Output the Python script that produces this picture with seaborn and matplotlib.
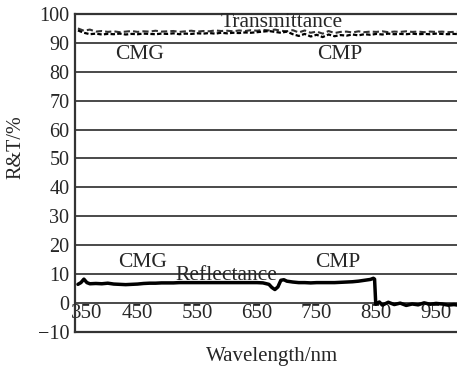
import pandas as pd
import matplotlib
matplotlib.use("Agg")
import matplotlib.pyplot as plt
import matplotlib.transforms as mtransforms
import seaborn as sns

# ---------- data ----------
trans_wl = list(range(350, 1000, 10))
trans_cmg = [95.0, 94.2, 94.6, 93.9, 94.1, 93.8, 94.0, 93.7, 93.9, 94.1,
             93.8, 94.0, 93.9, 94.2, 93.9, 94.0, 94.1, 93.8, 94.0, 94.2,
             93.9, 94.1, 94.0, 94.3, 94.1, 94.2, 94.0, 94.3, 94.1, 94.4,
             94.2, 94.5, 94.3, 94.6, 94.2, 94.0, 94.4, 93.6, 94.3, 93.5,
             93.9, 93.2, 94.1, 93.4, 93.8, 93.9, 93.6, 94.0, 93.7, 93.9,
             93.8, 94.0, 93.7, 93.9, 93.8, 94.0, 93.8, 93.9, 93.7, 93.9,
             93.8, 93.9, 93.7, 93.8, 93.8]
trans_cmp = [94.3, 93.5, 93.0, 93.2, 92.9, 93.1, 93.0, 93.2, 92.9, 93.1,
             93.0, 93.2, 93.1, 93.0, 93.2, 93.1, 93.3, 93.0, 93.2, 93.1,
             93.3, 93.2, 93.4, 93.2, 93.5, 93.3, 93.5, 93.4, 93.6, 93.5,
             93.7, 93.9, 94.1, 93.8, 93.5, 93.9, 93.0, 92.4, 93.1, 92.2,
             92.8, 92.0, 92.9, 92.3, 92.7, 92.5, 92.9, 92.6, 93.0, 92.8,
             93.1, 92.9, 93.2, 93.0, 93.1, 93.0, 93.2, 93.0, 93.1, 93.0,
             93.2, 93.1, 93.0, 93.1, 93.0]

refl_wl = [350, 355, 360, 365, 370, 380, 390, 400, 410, 420, 430, 440, 450,
           460, 470, 480, 490, 500, 510, 520, 530, 540, 550, 560, 570, 580,
           590, 600, 610, 620, 630, 640, 650, 660, 670, 675, 680, 685, 690,
           695, 700, 710, 720, 730, 740, 750, 760, 770, 780, 790, 800, 810,
           820, 830, 840, 845, 847, 849, 855, 860, 870, 880, 890, 900, 910,
           920, 930, 940, 950, 960, 970, 980, 990]
refl = [6.4, 7.0, 8.2, 7.0, 6.6, 6.7, 6.6, 6.8, 6.5, 6.4, 6.3, 6.4, 6.5,
        6.7, 6.8, 6.8, 6.9, 6.9, 6.9, 7.0, 7.0, 7.0, 7.0, 7.0, 7.0, 7.0,
        7.0, 7.0, 7.0, 7.0, 7.0, 7.0, 7.0, 6.9, 6.4, 5.3, 4.6, 5.5, 7.8,
        8.0, 7.5, 7.2, 7.0, 7.0, 6.9, 7.0, 7.0, 7.0, 7.0, 7.1, 7.2, 7.3,
        7.5, 7.8, 8.1, 8.5, 8.2, -0.5, 0.3, -0.8, 0.2, -0.6, -0.1, -0.9, -0.4,
        -0.7, 0.0, -0.5, -0.2, -0.4, -0.8, -0.6, -0.9]

x_ticks = [350, 450, 550, 650, 750, 850, 950]
y_ticks = [-10, 0, 10, 20, 30, 40, 50, 60, 70, 80, 90, 100]

# ---------- plot ----------
sns.set_style("white")
plt.rcParams["font.family"] = ["Liberation Serif", "DejaVu Serif"]

fig = plt.figure(figsize=(4.57, 3.68), dpi=100)
ax = fig.add_axes([0.164, 0.0986, 0.845, 0.8634])

for y in y_ticks[1:-1]:
    ax.axhline(y, color="#3a3a3a", lw=1.3, zorder=1)

sns.lineplot(x=trans_wl, y=trans_cmg, ax=ax, color="#333333", lw=1.5,
             linestyle=(0, (3, 1.5)), zorder=3)
sns.lineplot(x=trans_wl, y=trans_cmp, ax=ax, color="black", lw=1.6,
             linestyle=(0, (2, 1)), zorder=3)
sns.lineplot(x=refl_wl, y=refl, ax=ax, color="black", lw=2.5, zorder=3)

ax.set_xlim(345, 992)
ax.set_ylim(-10, 100)
ax.set_xticks(x_ticks)
ax.set_yticks(y_ticks)
ax.set_yticklabels([str(v).replace("-", "\u2212") for v in y_ticks])
ax.tick_params(axis="x", length=0, pad=-20, labelsize=15)
ax.tick_params(axis="y", length=3, width=1.2, pad=1, labelsize=14.5, color="#333333")

# first x label sits a bit right of the spine, as in the original
lbl = ax.get_xticklabels()[0]
lbl.set_transform(lbl.get_transform() + mtransforms.ScaledTranslation(6 / 72, 0, fig.dpi_scale_trans))

for s in ["left", "top", "bottom"]:
    ax.spines[s].set_color("#333333")
    ax.spines[s].set_linewidth(1.6)
ax.spines["right"].set_visible(False)

fs = 15.5
ax.text(692, 97, "Transmittance", fontsize=fs, ha="center", va="center")
ax.text(453, 86, "CMG", fontsize=fs, ha="center", va="center")
ax.text(789, 86, "CMP", fontsize=fs, ha="center", va="center")
ax.text(459, 13.8, "CMG", fontsize=fs, ha="center", va="center")
ax.text(786, 13.8, "CMP", fontsize=fs, ha="center", va="center")
ax.text(599, 9.4, "Reflectance", fontsize=fs, ha="center", va="center")

ax.set_xlabel("Wavelength/nm", fontsize=15)
ax.set_ylabel("R&T/%", fontsize=14.5)
ax.xaxis.set_label_coords(0.51, -0.047)
ax.yaxis.set_label_coords(-0.128, 0.58)

plt.savefig("out.png", dpi=100)
